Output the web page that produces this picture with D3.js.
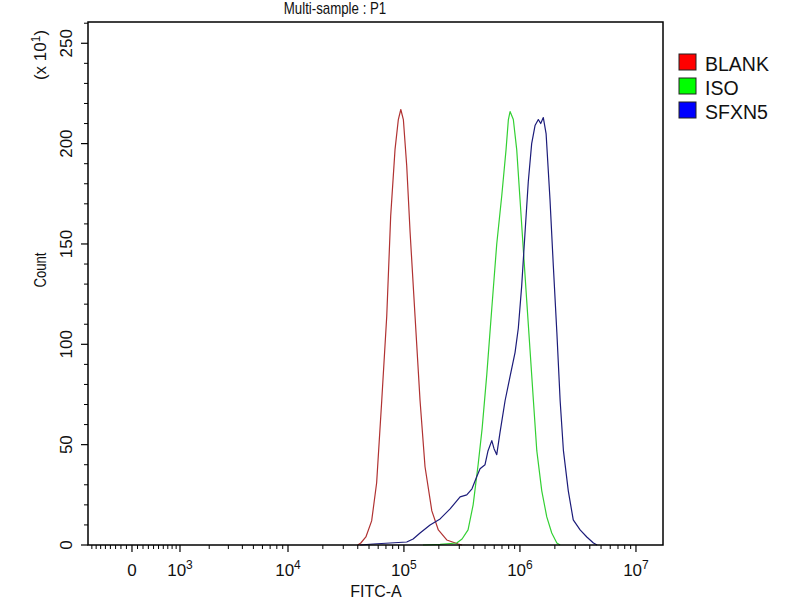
<!DOCTYPE html>
<html>
<head>
<meta charset="utf-8">
<script src="https://cdn.jsdelivr.net/npm/d3@7"></script>
<style>
  html, body { margin: 0; padding: 0; background: #fff; }
  svg { display: block; }
  text { font-family: "Liberation Sans", Arial, sans-serif; fill: #111; }
</style>
</head>
<body>
<svg id="chart" width="800" height="600"></svg>
<script>
// ---------- data ----------
const title = "Multi-sample : P1";
const xTitle = "FITC-A";
const yTitle = "Count";
const yMultiplier = "(x 10";
const yMultiplierExp = "1";

const seriesNames = ["BLANK", "ISO", "SFXN5"];
const seriesColors = ["#ff0000", "#00ff00", "#0000ff"];
const lineColors = ["#b03232", "#33d033", "#1c1c7a"];

// BLANK (red)
const blankX = [40000, 42500, 47000, 52700, 58200, 64400, 71100, 76900, 83800, 89500, 94000, 98900, 105700, 113000, 124700, 137700, 152000, 174000, 198000, 234000, 294000, 317000];
const blankY = [0, 1, 4, 12, 31, 72, 114, 164, 197, 212, 217, 212, 189, 156, 114, 72, 39, 17, 7.5, 2.5, 0.5, 0];

// ISO (green)
const isoX = [146000, 205000, 285000, 317000, 357000, 395000, 436000, 472000, 518000, 572000, 631000, 697000, 759000, 795000, 822000, 877000, 938000, 1002000, 1070000, 1143000, 1222000, 1306000, 1397000, 1542000, 1703000, 1880000, 2080000, 2220000];
const isoY = [0, 0.3, 1, 3, 7.5, 20, 40, 58, 85, 118, 150, 174, 197, 212, 216, 212, 197, 172, 147, 122, 97, 72, 47, 27, 14, 6, 1, 0];

// SFXN5 (blue)
const sfxnX = [41900, 54200, 75900, 105700, 120000, 137700, 168000, 205000, 250000, 305000, 348000, 386000, 424000, 453000, 500000, 531000, 572000, 598000, 631000, 673000, 745000, 822000, 908000, 968000, 1035000, 1107000, 1180000, 1262000, 1349000, 1440000, 1510000, 1590000, 1680000, 1816000, 1940000, 2080000, 2220000, 2370000, 2610000, 2880000, 3300000, 3770000, 4300000, 4620000];
const sfxnY = [0, 0.5, 1, 1.5, 3, 6, 10, 13, 18, 24, 25, 28, 34, 38, 40, 47, 52, 48, 45, 56, 72, 84, 96, 108, 129, 156, 181, 200, 209, 212, 210, 213, 205, 172, 139, 106, 72, 47, 27, 12.5, 7.5, 4, 1, 0];

const xMajorTicks = [0, 1e3, 1e4, 1e5, 1e6, 1e7];
const xMajorExp = [null, "3", "4", "5", "6", "7"];
const yMajorTicks = [0, 50, 100, 150, 200, 250];

// ---------- layout ----------
const pLeft = 88, pRight = 663, pTop = 22, pBottom = 545;
const xDomain = [-895, 1.71e7];
const yDomain = [0, 260.6];
const biexW = 906; // biexponential width

const svg = d3.select("#chart");

// biexponential (asinh) transform composed with a d3 linear scale
const tr = v => Math.asinh(v / biexW) / Math.LN10;
const xLin = d3.scaleLinear().domain(xDomain.map(tr)).range([pLeft, pRight]);
const xPos = v => xLin(tr(v));
const yScale = d3.scaleLinear().domain(yDomain).range([pBottom, pTop]);

// minor ticks
const xMinor = [];
for (let v = -800; v <= 900; v += 100) if (v !== 0) xMinor.push(v);
for (let d = 3; d <= 6; d++) for (let k = 2; k <= 9; k++) xMinor.push(k * Math.pow(10, d));
const yMinor = d3.range(0, 261, 10).filter(v => v % 50 !== 0);

// ---------- curves ----------
const line = d3.line().x(d => xPos(d[0])).y(d => yScale(d[1]));
const series = [
  { xs: blankX, ys: blankY, color: lineColors[0] },
  { xs: isoX, ys: isoY, color: lineColors[1] },
  { xs: sfxnX, ys: sfxnY, color: lineColors[2] }
];
const plot = svg.append("g");
series.forEach(s => {
  plot.append("path")
    .datum(s.xs.map((v, i) => [v, s.ys[i]]))
    .attr("d", line)
    .attr("fill", "none")
    .attr("stroke", s.color)
    .attr("stroke-width", 1.2)
    .attr("stroke-linejoin", "round");
});

// ---------- frame ----------
svg.append("rect")
  .attr("x", pLeft).attr("y", pTop)
  .attr("width", pRight - pLeft).attr("height", pBottom - pTop)
  .attr("fill", "none").attr("stroke", "#000").attr("stroke-width", 1.5);

// ---------- x axis ticks ----------
const gx = svg.append("g");
gx.selectAll("line.minor").data(xMinor).join("line")
  .attr("class", "minor")
  .attr("x1", d => xPos(d)).attr("x2", d => xPos(d))
  .attr("y1", pBottom).attr("y2", pBottom + 4)
  .attr("stroke", "#000").attr("stroke-width", 1);
gx.selectAll("line.major").data(xMajorTicks).join("line")
  .attr("class", "major")
  .attr("x1", d => xPos(d)).attr("x2", d => xPos(d))
  .attr("y1", pBottom).attr("y2", pBottom + 7)
  .attr("stroke", "#000").attr("stroke-width", 1.2);
xMajorTicks.forEach((v, i) => {
  const t = gx.append("text")
    .attr("x", xPos(v)).attr("y", 576)
    .attr("text-anchor", "middle")
    .attr("font-size", 17);
  if (xMajorExp[i] === null) {
    t.text("0");
  } else {
    t.append("tspan").text("10");
    t.append("tspan").attr("dy", -7).attr("font-size", 12).text(xMajorExp[i]);
  }
});

// ---------- y axis ticks ----------
const gy = svg.append("g");
gy.selectAll("line.minor").data(yMinor).join("line")
  .attr("class", "minor")
  .attr("x1", pLeft - 4).attr("x2", pLeft)
  .attr("y1", d => yScale(d)).attr("y2", d => yScale(d))
  .attr("stroke", "#000").attr("stroke-width", 1);
gy.selectAll("line.major").data(yMajorTicks).join("line")
  .attr("class", "major")
  .attr("x1", pLeft - 7).attr("x2", pLeft)
  .attr("y1", d => yScale(d)).attr("y2", d => yScale(d))
  .attr("stroke", "#000").attr("stroke-width", 1.2);
gy.selectAll("text.ylab").data(yMajorTicks).join("text")
  .attr("class", "ylab")
  .attr("transform", d => `translate(72,${yScale(d)}) rotate(-90)`)
  .attr("text-anchor", "middle")
  .attr("font-size", 17)
  .text(d => d);

// ---------- titles ----------
svg.append("text")
  .attr("transform", "translate(335,14) scale(0.83,1)")
  .attr("text-anchor", "middle")
  .attr("font-size", 16)
  .text(title);

svg.append("text")
  .attr("x", 376).attr("y", 596.5)
  .attr("text-anchor", "middle")
  .attr("font-size", 16)
  .text(xTitle);

svg.append("text")
  .attr("transform", "translate(46,270) rotate(-90) scale(0.82,1)")
  .attr("text-anchor", "middle")
  .attr("font-size", 16)
  .text(yTitle);

const mult = svg.append("text")
  .attr("transform", "translate(46,55) rotate(-90)")
  .attr("text-anchor", "middle")
  .attr("font-size", 17);
mult.append("tspan").text(yMultiplier);
mult.append("tspan").attr("dy", -6).attr("font-size", 12).text(yMultiplierExp);
mult.append("tspan").attr("dy", 6).text(")");

// ---------- legend ----------
const lg = svg.append("g");
seriesNames.forEach((name, i) => {
  lg.append("rect")
    .attr("x", 679).attr("y", 54 + i * 24)
    .attr("width", 17).attr("height", 16)
    .attr("fill", seriesColors[i])
    .attr("stroke", "#222").attr("stroke-width", 1);
  lg.append("text")
    .attr("x", 705).attr("y", 71 + i * 24)
    .attr("font-size", 19.5)
    .text(name);
});
</script>
</body>
</html>
